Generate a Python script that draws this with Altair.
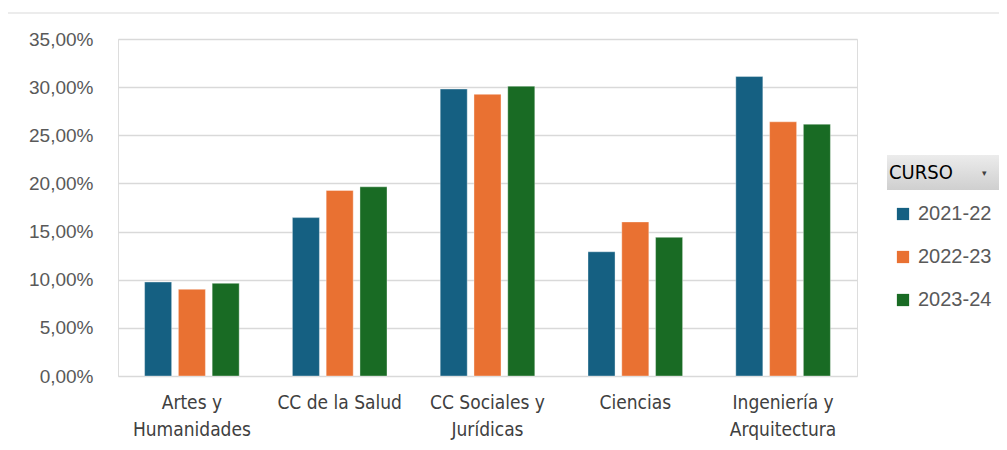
import altair as alt
import pandas as pd

categories = ["Artes y Humanidades", "CC de la Salud", "CC Sociales y Jurídicas", "Ciencias", "Ingeniería y Arquitectura"]
cursos = ["2021-22", "2022-23", "2023-24"]
v_2021_22 = [0.0976, 0.1645, 0.2980, 0.1290, 0.3110]
v_2022_23 = [0.0900, 0.1927, 0.2925, 0.1600, 0.2640]
v_2023_24 = [0.0962, 0.1965, 0.3010, 0.1440, 0.2615]
colors = ["#156082", "#E97132", "#196B24"]

rows = []
for serie, vals in zip(cursos, [v_2021_22, v_2022_23, v_2023_24]):
    for c, v in zip(categories, vals):
        rows.append({"Area": c, "CURSO": serie, "Valor": v})
df = pd.DataFrame(rows)

label_expr = (
    "datum.label == 'Artes y Humanidades' ? ['Artes y', 'Humanidades'] : "
    "datum.label == 'CC Sociales y Jurídicas' ? ['CC Sociales y', 'Jurídicas'] : "
    "datum.label == 'Ingeniería y Arquitectura' ? ['Ingeniería y', 'Arquitectura'] : datum.label"
)

W, H = 739, 337

bars = alt.Chart(df).mark_bar(stroke="white", strokeWidth=0.6, strokeOpacity=0.6).encode(
    x=alt.X("Area:N", sort=categories, title=None,
            scale=alt.Scale(paddingInner=0.36, paddingOuter=0.18),
            axis=alt.Axis(labelAngle=0, labelExpr=label_expr, labelFontSize=19,
                          labelFont="DejaVu Sans Condensed, Roboto, sans-serif",
                          labelColor="#404040", labelLineHeight=27, labelPadding=17,
                          ticks=False, domain=False, labelLimit=200)),
    xOffset=alt.XOffset("CURSO:N", sort=cursos, scale=alt.Scale(paddingInner=0.2, paddingOuter=0)),
    y=alt.Y("Valor:Q", title=None,
            scale=alt.Scale(domain=[0, 0.35], nice=False),
            axis=alt.Axis(values=[0, 0.05, 0.1, 0.15, 0.2, 0.25, 0.3, 0.35],
                          labelExpr="replace(format(datum.value, '.2%'), '.', ',')",
                          labelFontSize=19, labelFont="Liberation Sans, Arial, sans-serif",
                          labelColor="#595959", labelPadding=25, ticks=False, domain=False,
                          grid=True, gridColor="#d9d9d9", gridWidth=1.5)),
    color=alt.Color("CURSO:N", sort=cursos,
                    scale=alt.Scale(domain=cursos, range=colors),
                    legend=alt.Legend(title=None, orient="none", legendX=775, legendY=165,
                                      symbolType="square", symbolSize=150, symbolStrokeWidth=0,
                                      labelFontSize=20, labelFont="Liberation Sans, Arial, sans-serif",
                                      labelColor="#595959", rowPadding=23, labelOffset=5)),
)

hdr = pd.DataFrame({"k": [0]})
header_box = alt.Chart(hdr).mark_rect(
    fill={"x1": 0, "y1": 0, "x2": 0, "y2": 1, "gradient": "linear",
          "stops": [{"offset": 0, "color": "#ececec"}, {"offset": 1, "color": "#cfcfcf"}]},
).encode(x=alt.value(769), x2=alt.value(881), y=alt.value(116), y2=alt.value(151))

header_text = alt.Chart(hdr).mark_text(
    text="CURSO", align="left", baseline="middle", fontSize=20,
    font="DejaVu Sans Condensed, Roboto, sans-serif", color="#000000",
).encode(x=alt.value(771), y=alt.value(134))

header_arrow = alt.Chart(hdr).mark_text(
    text="▾", align="center", baseline="middle", fontSize=9, color="#404040",
).encode(x=alt.value(866), y=alt.value(134))

frame_top = alt.Chart(hdr).mark_rule(color="#e6e6e6", strokeWidth=1.5).encode(
    x=alt.value(-110), x2=alt.value(881), y=alt.value(-26)
)

chart = alt.layer(frame_top, bars, header_box, header_text, header_arrow).properties(
    width=W, height=H,
    autosize=alt.AutoSizeParams(type="none"),
    padding={"left": 110, "top": 31, "right": 142, "bottom": 66},
).configure_view(stroke=None).configure(background="white")

chart.save("out.html", embed_options={"renderer": "svg", "actions": False})
